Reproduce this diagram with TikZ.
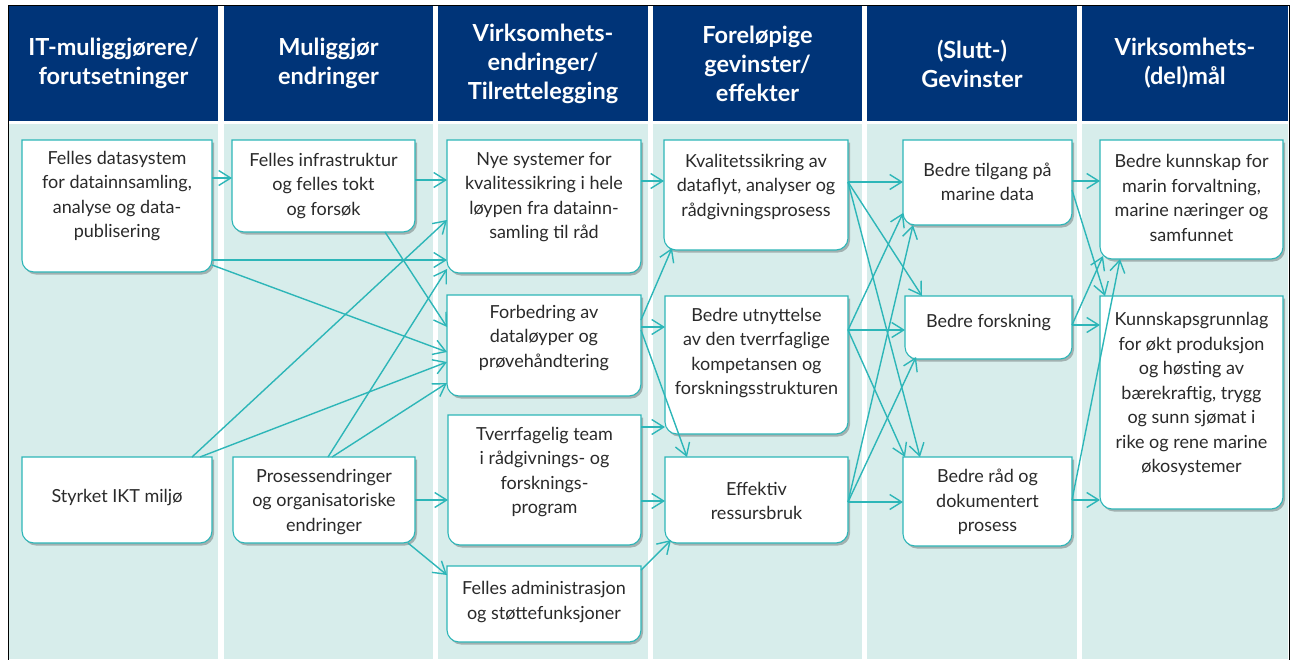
\documentclass[tikz,border=0pt]{standalone}
\usepackage{fontspec}
\setmainfont{Lato}
\usetikzlibrary{arrows.meta,shadows}
\definecolor{hdr}{HTML}{003478}
\definecolor{colbg}{HTML}{D7EDEB}
\definecolor{teal1}{HTML}{2DB6B8}
\definecolor{txt}{HTML}{2A2A2A}
\tikzset{
  boxbase/.style={draw=none,inner sep=0pt,outer sep=0pt,rectangle},
  boxshape/.style={fill=white,draw=teal1,line width=1.1pt,
    drop shadow={shadow xshift=2pt,shadow yshift=-2.5pt,fill=black,opacity=0.25}},
  boxtext/.style={text=txt,align=center,inner sep=0pt,font=\fontsize{18}{24.5}\selectfont},
  hdrbox/.style={fill=hdr,text=white,align=center,inner sep=0pt,outer sep=0pt,
    font=\bfseries\fontsize{23.5}{29}\selectfont},
  conn/.style={draw=teal1,line width=1.4pt,-{Straight Barb[length=12pt,width=15pt]}}
}
\newcommand\mybox[7]{%
  \pgfmathsetmacro\bw{#4-#2}\pgfmathsetmacro\bh{#5-#3}%
  \pgfmathsetmacro\bx{(#2+#4)/2}\pgfmathsetmacro\by{-(#3+#5)/2}%
  \node[boxbase,minimum width=\bw pt,minimum height=\bh pt] (#1) at (\bx,\by) {};
  \path[boxshape] (#1.north west) -- (#1.north east) -- ([yshift=12pt]#1.south east)
    arc[start angle=0,end angle=-90,radius=12pt] -- ([xshift=12pt]#1.south west)
    arc[start angle=270,end angle=180,radius=12pt] -- cycle;
  \node[boxtext] (#1t) at (\bx,-#6) {#7};
}
\newcommand\myhead[4]{%
  \pgfmathsetmacro\hw{#3-#2}\pgfmathsetmacro\hx{(#2+#3)/2}%
  \node[hdrbox,minimum width=\hw pt,minimum height=115pt] (#1) at (\hx,-63.5) {#4};
}
\begin{document}
\begin{tikzpicture}[x=1pt,y=1pt]
\useasboundingbox (0,0) rectangle (1292,-659);
% column bodies
\fill[colbg] (9,-124) rectangle (218,-659);
\fill[colbg] (224,-124) rectangle (433,-659);
\fill[colbg] (438,-124) rectangle (648,-659);
\fill[colbg] (653,-124) rectangle (862,-659);
\fill[colbg] (867,-124) rectangle (1077,-659);
\fill[colbg] (1082,-124) rectangle (1288,-659);
% headers
\myhead{h1}{9}{218}{IT-muliggjørere/\\forutsetninger}
\myhead{h2}{224}{433}{Muliggjør\\endringer}
\myhead{h3}{438}{648}{Virksomhets-\\endringer/\\Tilrettelegging}
\myhead{h4}{653}{862}{Foreløpige\\gevinster/\\effekter}
\myhead{h5}{867}{1077}{(Slutt-)\\Gevinster}
\myhead{h6}{1082}{1288}{Virksomhets-\\(del)mål}
\draw[black,line width=0.8pt] (8,-680) -- (8,-5) -- (1289,-5) -- (1289,-680);
% boxes
\mybox{FD}{22}{140}{212}{272}{196}{Felles datasystem\\for datainnsamling,\\analyse og data-\\publisering}
\mybox{SI}{22}{457}{212}{543}{497}{Styrket IKT miljø}
\mybox{FI}{232}{140}{415}{232}{186}{Felles infrastruktur\\og felles tokt\\og forsøk}
\mybox{PO}{233}{457}{415}{543}{502}{Prosessendringer\\og organisatoriske\\endringer}
\mybox{NS}{447}{140}{641}{273}{197}{Nye systemer for\\kvalitessikring i hele\\løypen fra datainn-\\samling til råd}
\mybox{FB}{447}{295}{641}{396}{338}{Forbedring av\\dataløyper og\\prøvehåndtering}
\mybox{TT}{448}{415}{641}{545}{472}{Tverrfagelig team\\i rådgivnings- og\\forsknings-\\program}
\mybox{FA}{447}{566}{641}{642}{602}{Felles administrasjon\\og støttefunksjoner}
\mybox{K}{664}{140}{848}{250}{187}{Kvalitetssikring av\\dataflyt, analyser og\\rådgivningsprosess}
\mybox{U}{665}{296}{848}{434}{353}{Bedre utnyttelse\\av den tverrfaglige\\kompetansen og\\forskningsstrukturen}
\mybox{E}{665}{457}{848}{543}{501}{Effektiv\\ressursbruk}
\mybox{B1}{903}{140}{1072}{225}{182}{Bedre tilgang på\\marine data}
\mybox{B2}{905}{296}{1072}{359}{323}{Bedre forskning}
\mybox{B3}{903}{457}{1072}{546}{502}{Bedre råd og\\dokumentert\\prosess}
\mybox{BK}{1100}{140}{1283}{259}{198}{Bedre kunnskap for\\marin forvaltning,\\marine næringer og\\samfunnet}
\mybox{KG}{1100}{296}{1283}{509}{394}{Kunnskapsgrunnlag\\for økt produksjon\\og høsting av\\bærekraftig, trygg\\og sunn sjømat i\\rike og rene marine\\økosystemer}
% connectors col1 -> col2/3
\draw[conn] ([yshift=-38pt]FD.north east) -- ([yshift=-38pt]FI.north west);
\draw[conn] ([yshift=-120pt]FD.north east) -- ([yshift=-120pt]NS.north west);
\draw[conn] ([yshift=-125pt]FD.north east) -- ([yshift=-57pt]FB.north west);
\draw[conn] ([yshift=-40pt]FI.north east) -- ([yshift=-40pt]NS.north west);
\draw[conn] ([xshift=-30pt]FI.south east) -- ([yshift=-32pt]FB.north west);
\draw[conn] ([xshift=-20pt]SI.north east) -- ([yshift=-80pt]NS.north west);
\draw[conn] ([xshift=-12pt]SI.north east) -- ([yshift=-67pt]FB.north west);
\draw[conn] ([xshift=95pt]PO.north west) -- ([yshift=4pt]NS.south west);
\draw[conn] ([xshift=99pt]PO.north west) -- ([yshift=-88pt]FB.north west);
\draw[conn] ([yshift=-43pt]PO.north east) -- ([yshift=-85pt]TT.north west);
\draw[conn] ([xshift=-7pt]PO.south east) -- ([yshift=-9pt]FA.north west);
% col3 -> col4
\draw[conn] ([yshift=-41pt]NS.north east) -- ([yshift=-41pt]K.north west);
\draw[conn] ([yshift=-25pt]FB.north east) -- ([xshift=8pt,yshift=2pt]K.south west);
\draw[conn] ([yshift=-32pt]FB.north east) -- ([yshift=-31pt]U.north west);
\draw[conn] ([yshift=-35pt]FB.north east) -- ([xshift=22pt]E.north west);
\draw[conn] ([yshift=-12pt]TT.north east) -- ([yshift=-131pt]U.north west);
\draw[conn] ([yshift=-86pt]TT.north east) -- ([yshift=-44pt]E.north west);
\draw[conn] ([yshift=-4pt]FA.north east) -- ([xshift=6pt,yshift=3pt]E.south west);
% col4 -> col5
\draw[conn] ([yshift=-42pt]K.north east) -- ([yshift=-42pt]B1.north west);
\draw[conn] ([yshift=-42pt]K.north east) -- ([xshift=17pt]B2.north west);
\draw[conn] ([yshift=-42pt]K.north east) -- ([xshift=17pt]B3.north west);
\draw[conn] ([yshift=-34pt]U.north east) -- ([yshift=12pt]B1.south west);
\draw[conn] ([yshift=-34pt]U.north east) -- ([yshift=-34pt]B2.north west);
\draw[conn] ([yshift=-34pt]U.north east) -- ([xshift=2pt]B3.north west);
\draw[conn] ([yshift=-45pt]E.north east) -- ([xshift=10pt]B1.south west);
\draw[conn] ([yshift=-45pt]E.north east) -- ([xshift=11pt,yshift=2pt]B2.south west);
\draw[conn] ([yshift=-45pt]E.north east) -- ([yshift=-45pt]B3.north west);
% col5 -> col6
\draw[conn] ([yshift=-41pt]B1.north east) -- ([yshift=-41pt]BK.north west);
\draw[conn] ([yshift=-50pt]B1.north east) -- ([xshift=5pt]KG.north west);
\draw[conn] ([yshift=-29pt]B2.north east) -- ([xshift=3pt,yshift=3pt]BK.south west);
\draw[conn] ([yshift=-29pt]B2.north east) -- ([yshift=-29pt]KG.north west);
\draw[conn] ([yshift=-43pt]B3.north east) -- ([xshift=20pt]BK.south west);
\draw[conn] ([yshift=-43pt]B3.north east) -- ([yshift=-204pt]KG.north west);
\end{tikzpicture}
\end{document}
